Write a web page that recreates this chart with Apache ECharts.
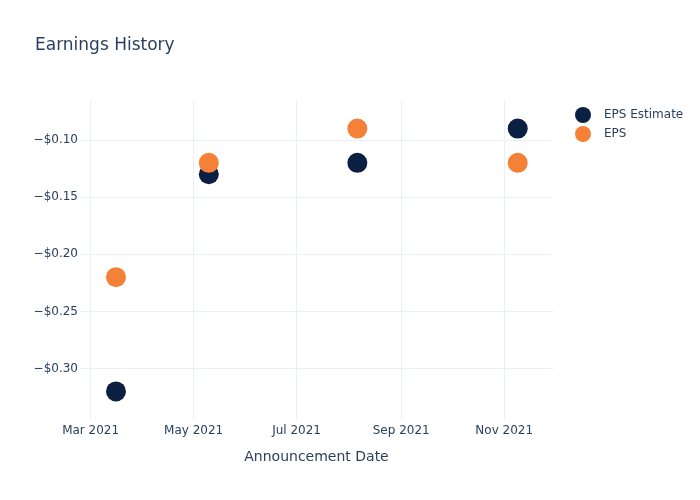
<!DOCTYPE html>
<html>
<head>
<meta charset="utf-8">
<script src="https://cdn.jsdelivr.net/npm/echarts@6/dist/echarts.min.js"></script>
<style>html,body{margin:0;padding:0;background:#fff}#c{width:700px;height:500px}</style>
</head>
<body>
<div id="c"></div>
<script>
var dates = ['2021-03-16', '2021-05-10', '2021-08-06', '2021-11-09'];
var epsEstimate = [-0.32, -0.13, -0.12, -0.09];
var eps = [-0.22, -0.12, -0.09, -0.12];
var xTicks = ['2021-03-01', '2021-05-01', '2021-07-01', '2021-09-01', '2021-11-01'];
var yTicks = [-0.30, -0.25, -0.20, -0.15, -0.10];
var monthNames = ['Jan','Feb','Mar','Apr','May','Jun','Jul','Aug','Sep','Oct','Nov','Dec'];

function ts(s){ return new Date(s + 'T00:00:00Z').getTime(); }
var xTickTs = xTicks.map(ts);
var font = 'DejaVu Sans';
var chart = echarts.init(document.getElementById('c'), null, {renderer:'canvas'});
chart.setOption({
  backgroundColor: '#fff',
  animation: false,
  title: {text: 'Earnings History', left: 35, top: 37, padding: 0, textStyle: {fontFamily: font, fontSize: 17, fontWeight: 'normal', color: '#2a3f5f'}},
  legend: {
    orient: 'vertical', left: 570, top: 102, itemWidth: 16, itemHeight: 16, itemGap: 3,
    icon: 'circle',
    textStyle: {fontFamily: font, fontSize: 12, color: '#2a3f5f', padding: [0,0,0,8]},
    data: ['EPS Estimate', 'EPS']
  },
  grid: {left: 80, right: 147, top: 100, bottom: 80, containLabel: false},
  xAxis: {
    type: 'value',
    min: ts('2021-02-22') + 0.7*86400000,
    max: ts('2021-11-29') + 0.9*86400000,
    name: 'Announcement Date', nameLocation: 'middle', nameGap: 30,
    nameTextStyle: {fontFamily: font, fontSize: 14, color: '#2a3f5f'},
    axisLine: {show: false},
    axisTick: {show: false, customValues: xTickTs},
    splitLine: {show: true, lineStyle: {color: '#ebf0f8', width: 1}},
    axisLabel: {
      customValues: xTickTs,
      fontFamily: font, fontSize: 12, color: '#2a3f5f', margin: 5,
      showMinLabel: true, showMaxLabel: true,
      formatter: function(v){ var d = new Date(v); return monthNames[d.getUTCMonth()] + ' ' + d.getUTCFullYear(); }
    }
  },
  yAxis: {
    type: 'value',
    min: -0.345, max: -0.065,
    axisLine: {show: false},
    axisTick: {show: false, customValues: yTicks},
    splitLine: {show: true, lineStyle: {color: '#ebf0f8', width: 1}},
    axisLabel: {
      customValues: yTicks,
      fontFamily: font, fontSize: 12, color: '#2a3f5f', margin: 2,
      formatter: function(v){ return (v < 0 ? '\u2212' : '') + '$' + Math.abs(v).toFixed(2); }
    }
  },
  series: [
    {name: 'EPS Estimate', type: 'scatter', symbolSize: 20, itemStyle: {color: '#0b1f42', opacity: 1},
     data: dates.map(function(d,i){ return [ts(d), epsEstimate[i]]; })},
    {name: 'EPS', type: 'scatter', symbolSize: 20, itemStyle: {color: '#f58139', opacity: 1},
     data: dates.map(function(d,i){ return [ts(d), eps[i]]; })}
  ]
});
</script>
</body>
</html>
